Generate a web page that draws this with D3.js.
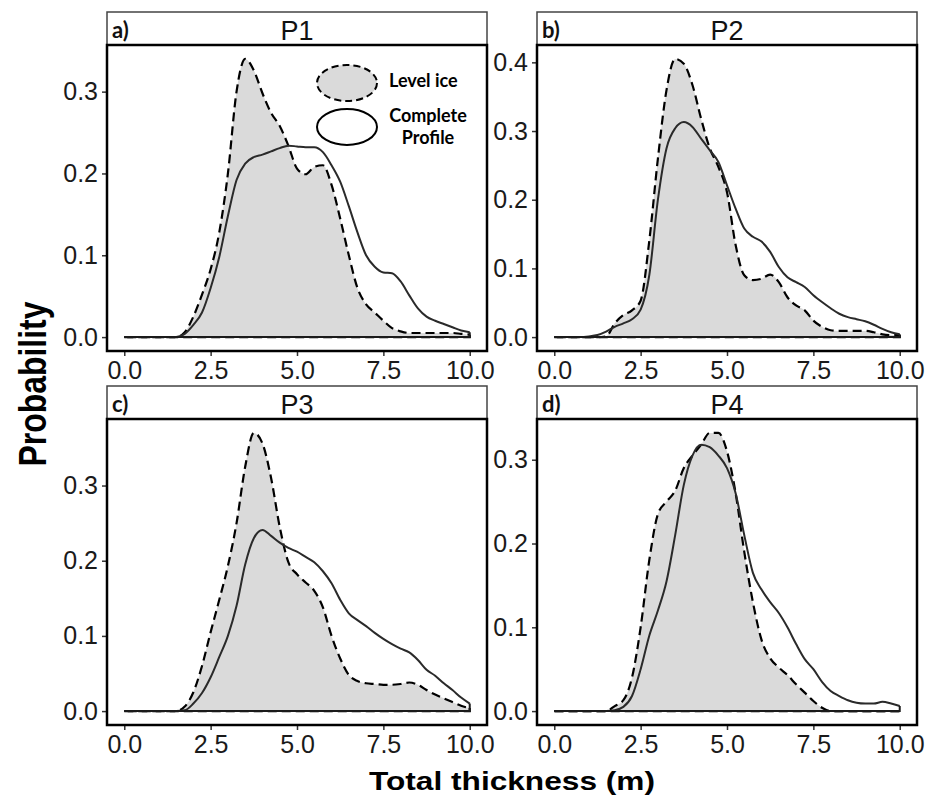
<!DOCTYPE html>
<html>
<head>
<meta charset="utf-8">
<script src="https://cdn.jsdelivr.net/npm/d3@7"></script>
<style>
  body { margin: 0; background: #fff; }
</style>
</head>
<body>
<div id="chart"></div>
<script>
// thickness grid (m) the densities are read at
var thickness = [0, 0.25, 0.5, 0.75, 1, 1.25, 1.5, 1.75, 2, 2.25, 2.5, 2.75, 3, 3.25, 3.5, 3.75,
  4, 4.25, 4.5, 4.75, 5, 5.25, 5.5, 5.75, 6, 6.25, 6.5, 6.75, 7, 7.25, 7.5, 7.75,
  8, 8.25, 8.5, 8.75, 9, 9.25, 9.5, 9.75, 10];

var panelNames = ["P1", "P2", "P3", "P4"];
var panelTags = ["a)", "b)", "c)", "d)"];
var xTicks = [0, 2.5, 5, 7.5, 10];
var yTicksP1 = [0, 0.1, 0.2, 0.3];
var yTicksP2 = [0, 0.1, 0.2, 0.3, 0.4];
var yTicksP3 = [0, 0.1, 0.2, 0.3];
var yTicksP4 = [0, 0.1, 0.2, 0.3];

// level ice (dashed, filled)
var levelP1 = [0, 0, 0, 0, 0, 0, 0, 0.006, 0.025, 0.052, 0.083, 0.128, 0.2, 0.3, 0.34, 0.326,
  0.298, 0.274, 0.258, 0.234, 0.206, 0.199, 0.208, 0.21, 0.186, 0.145, 0.1, 0.06, 0.04, 0.03, 0.02, 0.011,
  0.007, 0.005, 0.005, 0.005, 0.005, 0.005, 0.005, 0.004, 0.003];
var levelP2 = [0, 0, 0, 0, 0, 0, 0.001, 0.02, 0.032, 0.039, 0.053, 0.14, 0.26, 0.36, 0.405, 0.398,
  0.367, 0.318, 0.275, 0.248, 0.211, 0.134, 0.09, 0.083, 0.085, 0.091, 0.08, 0.058, 0.046, 0.039, 0.024, 0.015,
  0.01, 0.009, 0.009, 0.009, 0.009, 0.007, 0.004, 0.003, 0.003];
var levelP3 = [0, 0, 0, 0, 0, 0, 0, 0.006, 0.025, 0.06, 0.105, 0.148, 0.193, 0.25, 0.325, 0.37,
  0.356, 0.31, 0.245, 0.198, 0.182, 0.171, 0.16, 0.138, 0.1, 0.07, 0.048, 0.04, 0.037, 0.036, 0.035, 0.035,
  0.036, 0.038, 0.035, 0.028, 0.022, 0.017, 0.012, 0.007, 0.004];
var levelP4 = [0, 0, 0, 0, 0, 0, 0, 0.006, 0.013, 0.04, 0.1, 0.18, 0.235, 0.25, 0.263, 0.29,
  0.305, 0.318, 0.332, 0.332, 0.31, 0.26, 0.19, 0.13, 0.085, 0.063, 0.052, 0.043, 0.032, 0.022, 0.012, 0.004,
  0, 0, 0, 0, 0, 0, 0, 0, 0];

// complete profile (solid)
var completeP1 = [0, 0, 0, 0, 0, 0, 0, 0.004, 0.015, 0.03, 0.06, 0.098, 0.148, 0.192, 0.212, 0.22,
  0.223, 0.227, 0.231, 0.234, 0.233, 0.232, 0.232, 0.226, 0.21, 0.19, 0.16, 0.128, 0.1, 0.086, 0.079, 0.078,
  0.068, 0.051, 0.035, 0.025, 0.02, 0.016, 0.012, 0.008, 0.006];
var completeP2 = [0, 0, 0, 0, 0.001, 0.003, 0.008, 0.015, 0.02, 0.026, 0.04, 0.09, 0.2, 0.275, 0.304, 0.313,
  0.306, 0.289, 0.272, 0.255, 0.221, 0.187, 0.158, 0.146, 0.139, 0.124, 0.102, 0.087, 0.08, 0.073, 0.061, 0.051,
  0.042, 0.034, 0.029, 0.026, 0.023, 0.018, 0.012, 0.007, 0.004];
var completeP3 = [0, 0, 0, 0, 0, 0, 0, 0.001, 0.01, 0.024, 0.045, 0.072, 0.1, 0.14, 0.195, 0.23,
  0.241, 0.233, 0.224, 0.217, 0.212, 0.205, 0.198, 0.186, 0.17, 0.148, 0.13, 0.121, 0.113, 0.104, 0.096, 0.089,
  0.083, 0.078, 0.068, 0.055, 0.047, 0.037, 0.028, 0.018, 0.01];
var completeP4 = [0, 0, 0, 0, 0, 0, 0, 0.001, 0.005, 0.018, 0.05, 0.09, 0.12, 0.155, 0.21, 0.27,
  0.305, 0.318, 0.315, 0.305, 0.29, 0.26, 0.21, 0.165, 0.145, 0.13, 0.117, 0.1, 0.08, 0.062, 0.05, 0.035,
  0.024, 0.018, 0.013, 0.01, 0.009, 0.009, 0.011, 0.009, 0.006];

var levels = [levelP1, levelP2, levelP3, levelP4];
var completes = [completeP1, completeP2, completeP3, completeP4];
var yTicks = [yTicksP1, yTicksP2, yTicksP3, yTicksP4];

var width = 935, height = 798;
var colX = [107, 537], rowY = [45, 419];
var pw = 380, ph = 306, stripH = 33;
var fillGrey = "#dadada";

var svg = d3.select("#chart").append("svg")
    .attr("width", width)
    .attr("height", height)
    .style("font-family", "'Liberation Sans', Arial, sans-serif");

panelNames.forEach(function(name, k) {
  var left = colX[k % 2], top = rowY[Math.floor(k / 2)];
  var lev = levels[k], comp = completes[k];
  var ymax = Math.max(d3.max(lev), d3.max(comp));
  var pad = ymax * 0.05;

  var x = d3.scaleLinear().domain([-0.5, 10.5]).range([left, left + pw]);
  var y = d3.scaleLinear().domain([-pad, ymax + pad]).range([top + ph, top]);

  var g = svg.append("g");

  // strip
  g.append("rect")
    .attr("x", left).attr("y", top - stripH)
    .attr("width", pw).attr("height", stripH)
    .attr("fill", "#fff").attr("stroke", "#444").attr("stroke-width", 1.5);
  g.append("text")
    .attr("x", left + pw / 2).attr("y", top - 5)
    .attr("text-anchor", "middle")
    .style("font-size", "27px")
    .attr("fill", "#111")
    .text(name);
  g.append("text")
    .attr("x", left + 5).attr("y", top - 7)
    .style("font-family", "Lato, 'Open Sans', sans-serif")
    .style("font-weight", "700")
    .style("font-size", "22px")
    .attr("fill", "#111")
    .text(panelTags[k]);

  var area = d3.area()
    .x(function(d, i) { return x(thickness[i]); })
    .y0(y(0))
    .y1(function(d) { return y(d); })
    .curve(d3.curveMonotoneX);
  var line = d3.line()
    .x(function(d, i) { return x(thickness[i]); })
    .y(function(d) { return y(d); })
    .curve(d3.curveMonotoneX);
  var closing = d3.line()
    .x(function(d) { return x(d[0]); })
    .y(function(d) { return y(d[1]); });

  g.append("path").attr("d", area(lev)).attr("fill", fillGrey);

  // level ice outline (dashed)
  g.append("path").attr("d", line(lev))
    .attr("fill", "none").attr("stroke", "#000")
    .attr("stroke-width", 2.2).attr("stroke-dasharray", "9,5");
  g.append("path").attr("d", closing([[10, lev[lev.length - 1]], [10, 0], [0, 0]]))
    .attr("fill", "none").attr("stroke", "#000")
    .attr("stroke-width", 2.2).attr("stroke-dasharray", "9,5");

  // complete profile outline
  g.append("path").attr("d", line(comp))
    .attr("fill", "none").attr("stroke", "#2a2a2a").attr("stroke-width", 2);
  g.append("path").attr("d", closing([[10, comp[comp.length - 1]], [10, 0], [0, 0]]))
    .attr("fill", "none").attr("stroke", "#1a1a1a").attr("stroke-width", 2);

  // axes
  var xAxis = g.append("g")
    .attr("transform", "translate(0," + (top + ph) + ")")
    .call(d3.axisBottom(x).tickValues(xTicks).tickSize(5).tickPadding(5)
      .tickFormat(d3.format(".1f")));
  var yAxis = g.append("g")
    .attr("transform", "translate(" + left + ",0)")
    .call(d3.axisLeft(y).tickValues(yTicks[k]).tickSize(5).tickPadding(4)
      .tickFormat(d3.format(".1f")));
  [xAxis, yAxis].forEach(function(a) {
    a.select(".domain").remove();
    a.selectAll(".tick line").attr("stroke", "#333").attr("stroke-width", 1.5);
    a.selectAll(".tick text")
      .style("font-family", "'Liberation Sans', Arial, sans-serif")
      .style("font-size", "25px")
      .attr("fill", "#1a1a1a");
  });
  xAxis.selectAll(".tick text").attr("dy", "0.71em");

  // panel border
  g.append("rect")
    .attr("x", left).attr("y", top)
    .attr("width", pw).attr("height", ph)
    .attr("fill", "none").attr("stroke", "#000").attr("stroke-width", 2.5);

  // legend inside first panel
  if (k === 0) {
    var lg = g.append("g").style("font-family", "Lato, 'Open Sans', sans-serif")
      .style("font-weight", "700").style("font-size", "18px");
    lg.append("ellipse").attr("cx", 347).attr("cy", 83).attr("rx", 30).attr("ry", 18)
      .attr("fill", fillGrey).attr("stroke", "#000").attr("stroke-width", 2)
      .attr("stroke-dasharray", "7,4");
    lg.append("ellipse").attr("cx", 347).attr("cy", 127).attr("rx", 30).attr("ry", 18)
      .attr("fill", "#fff").attr("stroke", "#000").attr("stroke-width", 2);
    lg.append("text").attr("x", 389).attr("y", 87).text("Level ice");
    lg.append("text").attr("x", 428).attr("y", 122).attr("text-anchor", "middle").text("Complete");
    lg.append("text").attr("x", 428).attr("y", 144).attr("text-anchor", "middle").text("Profile");
  }
});

// axis titles
svg.append("text")
  .attr("x", 512).attr("y", 790)
  .attr("text-anchor", "middle")
  .style("font-size", "26px").style("font-weight", "700")
  .attr("textLength", 286).attr("lengthAdjust", "spacingAndGlyphs")
  .text("Total thickness (m)");
svg.append("text")
  .attr("transform", "translate(46,384) rotate(-90)")
  .attr("text-anchor", "middle")
  .style("font-size", "38px").style("font-weight", "700")
  .attr("textLength", 165).attr("lengthAdjust", "spacingAndGlyphs")
  .text("Probability");
</script>
</body>
</html>
